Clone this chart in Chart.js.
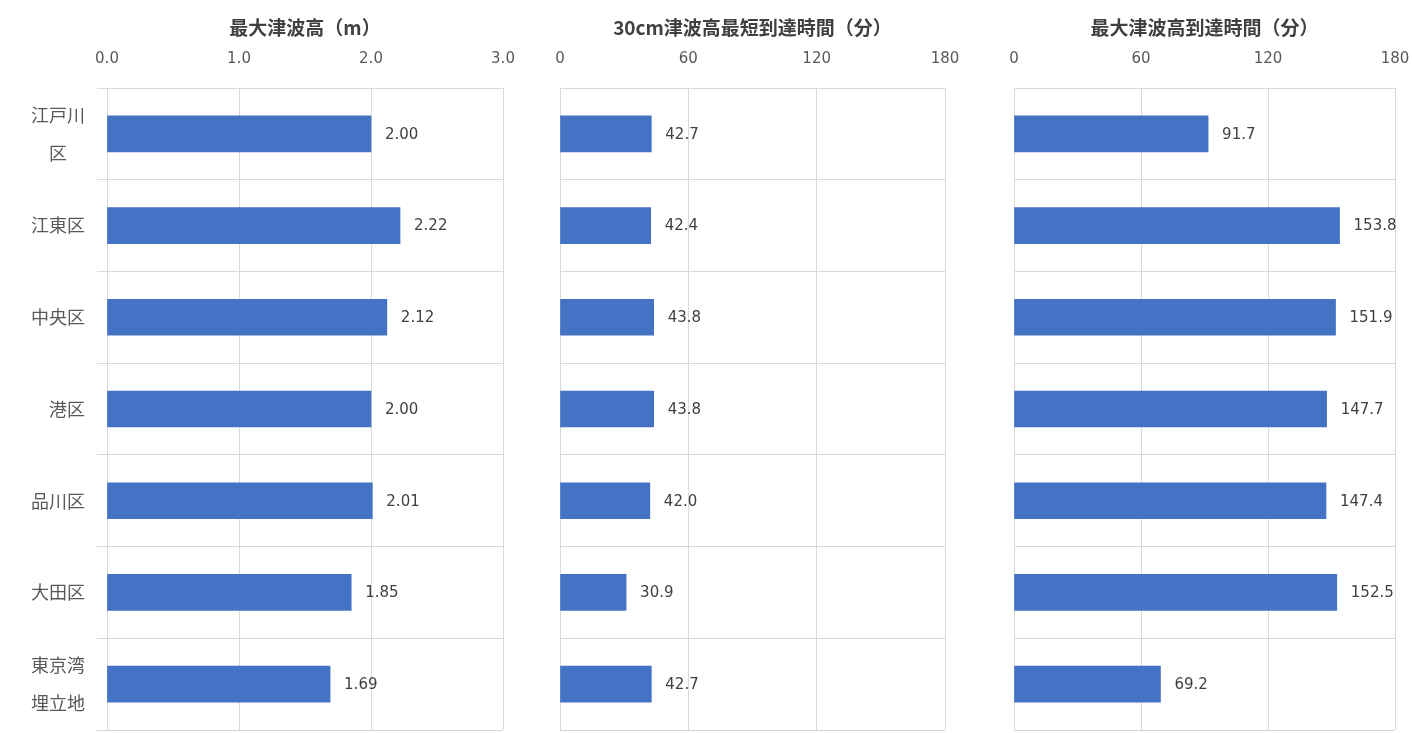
<!DOCTYPE html>
<html lang="ja">
<head>
<meta charset="utf-8">
<script src="https://cdn.jsdelivr.net/npm/chart.js@4"></script>
<style>
  html, body { margin: 0; padding: 0; background: #fff; overflow: hidden; }
  #wrap { position: relative; width: 1412px; height: 733px; }
  .box { position: absolute; top: 0; height: 733px; }
</style>
</head>
<body>
<div id="wrap">
  <div class="box" style="left:0;width:520px"><canvas id="c1"></canvas></div>
  <div class="box" style="left:520px;width:460px"><canvas id="c2"></canvas></div>
  <div class="box" style="left:980px;width:432px"><canvas id="c3"></canvas></div>
</div>
<script>
// 地域（上から順に）
const areas = [['江戸川', '　区　'], '江東区', '中央区', '港区', '品川区', '大田区', ['東京湾', '埋立地']];
// 最大津波高 (m)
const maxHeight = [2.00, 2.22, 2.12, 2.00, 2.01, 1.85, 1.69];
// 30cm津波高最短到達時間 (分)
const arrival30cm = [42.7, 42.4, 43.8, 43.8, 42.0, 30.9, 42.7];
// 最大津波高到達時間 (分)
const arrivalMax = [91.7, 153.8, 151.9, 147.7, 147.4, 152.5, 69.2];

const titles = ['最大津波高（m）', '30cm津波高最短到達時間（分）', '最大津波高到達時間（分）'];

const barColor = '#4472C4';
const gridColor = '#d9d9d9';
const cjk = '"Noto Sans CJK JP", "Noto Sans", sans-serif';
const num = '"DejaVu Sans", sans-serif';

// 棒の右側に値を描く
const valueLabels = {
    id: 'valueLabels',
    afterDatasetsDraw(chart, args, opts) {
        const ctx = chart.ctx;
        const meta = chart.getDatasetMeta(0);
        const values = chart.data.datasets[0].data;
        ctx.save();
        ctx.font = '15px ' + num;
        ctx.fillStyle = '#404040';
        ctx.textAlign = 'left';
        ctx.textBaseline = 'middle';
        meta.data.forEach((bar, i) => {
            ctx.fillText(values[i].toFixed(opts.digits), bar.x + 14, bar.y + 1);
        });
        ctx.restore();
    }
};

function makeChart(id, title, values, max, step, digits, yWidth, padRight, showAreas) {
    return new Chart(document.getElementById(id), {
        type: 'bar',
        data: {
            labels: areas,
            datasets: [{ data: values, backgroundColor: barColor, barThickness: 36 }]
        },
        options: {
            indexAxis: 'y',
            responsive: true,
            maintainAspectRatio: false,
            animation: false,
            layout: { padding: { left: 0, right: padRight, top: 0, bottom: 3 } },
            plugins: {
                legend: { display: false },
                tooltip: { enabled: false },
                title: {
                    display: true,
                    text: title,
                    fullSize: false,
                    color: '#404040',
                    font: { family: cjk, size: 19, weight: 'bold' },
                    padding: { top: 16, bottom: 2 }
                },
                valueLabels: { digits: digits }
            },
            scales: {
                x: {
                    position: 'top',
                    min: 0,
                    max: max,
                    ticks: {
                        stepSize: step,
                        padding: 20,
                        color: '#595959',
                        font: { family: num, size: 15 },
                        callback: v => digits === 2 ? v.toFixed(1) : v
                    },
                    grid: { color: gridColor, drawTicks: false },
                    border: { color: gridColor },
                    afterFit: s => {
                        s.height = 88 - (16 + 19 * 1.2 + 2);
                        s.paddingLeft = 0;
                        s.paddingRight = 0;
                    }
                },
                y: {
                    ticks: {
                        display: showAreas,
                        autoSkip: false,
                        padding: 12,
                        color: '#595959',
                        font: { family: cjk, size: 18, lineHeight: 2.1 }
                    },
                    grid: { color: gridColor, drawTicks: showAreas, tickLength: 10 },
                    border: { color: gridColor },
                    afterFit: s => {
                        s.width = yWidth;
                        s.paddingTop = 0;
                        s.paddingBottom = 0;
                    }
                }
            }
        },
        plugins: [valueLabels]
    });
}

makeChart('c1', titles[0], maxHeight, 3, 1, 2, 107, 17, true);
makeChart('c2', titles[1], arrival30cm, 180, 60, 1, 40, 35, false);
makeChart('c3', titles[2], arrivalMax, 180, 60, 1, 34, 17, false);
</script>
</body>
</html>
